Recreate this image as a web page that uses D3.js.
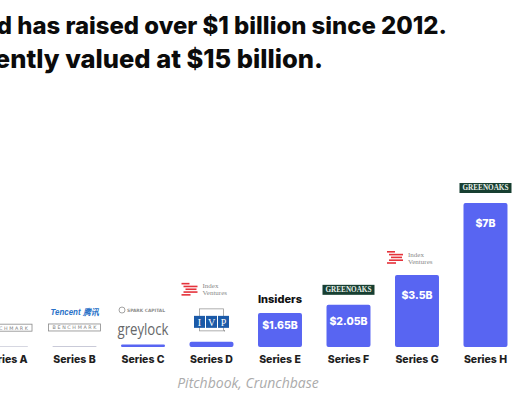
<!DOCTYPE html>
<html>
<head>
<meta charset="utf-8">
<script src="https://cdn.jsdelivr.net/npm/d3@7"></script>
<style>
  body { margin: 0; background: #fff; }
  svg { display: block; }
</style>
</head>
<body>
<div id="chart-container"></div>
<script>
// Valuation by round (in $B) with the lead investors drawn above each bar
const rounds = ["Series A", "Series B", "Series C", "Series D", "Series E", "Series F", "Series G", "Series H"];
const valuations = [0.04, 0.05, 0.12, 0.25, 1.65, 2.05, 3.5, 7];
const valueLabels = ["", "", "", "", "$1.65B", "$2.05B", "$3.5B", "$7B"];
// investors listed bottom -> top
const investors = [
  ["benchmark"],
  ["benchmark", "tencent"],
  ["greylock", "spark"],
  ["ivp", "index"],
  ["insiders"],
  ["greenoaks"],
  ["index"],
  ["greenoaks"]
];
const titleLines = [
  "Discord has raised over $1 billion since 2012.",
  "It's currently valued at $15 billion."
];
const source = "Pitchbook, Crunchbase";

const width = 520;
const height = 400;
const blurple = "#5865f2";
const font = "Inter, 'Open Sans', sans-serif";

const svg = d3
  .select("#chart-container")
  .append("svg")
  .attr("width", width)
  .attr("height", height);

const xScale = d3.scaleBand().domain(rounds).range([-40.5, 532]).padding(0.358);
const yScale = d3.scaleLinear().domain([0, 7]).range([347, 203]);

// title, right aligned so the left part falls off the canvas like the crop
function fitTitle(text, visible, right, baseline, target) {
  const t = svg
    .append("text")
    .attr("x", right)
    .attr("y", baseline)
    .attr("text-anchor", "end")
    .attr("font-family", font)
    .attr("font-weight", 800)
    .attr("font-size", 22)
    .attr("fill", "#0b0b0b")
    .text(text);
  const start = text.indexOf(visible);
  const w = t.node().getSubStringLength(start, text.length - start);
  t.attr("font-size", 22 * target / w);
}
fitTitle(titleLines[0], "has raised", 447, 34, 430);
fitTitle(titleLines[1], "valued", 323, 68, 258);

// bars
svg
  .append("g")
  .selectAll("rect")
  .data(valuations)
  .enter()
  .append("rect")
  .attr("x", (d, i) => xScale(rounds[i]))
  .attr("y", d => yScale(d))
  .attr("width", xScale.bandwidth())
  .attr("height", d => yScale(0) - yScale(d))
  .attr("rx", d => Math.min(2, (yScale(0) - yScale(d)) / 2))
  .attr("fill", (d, i) => (yScale(0) - yScale(d) < 2 ? "#c9cad8" : blurple));

// value labels inside the bars
svg
  .append("g")
  .selectAll("text")
  .data(valueLabels)
  .enter()
  .append("text")
  .attr("x", (d, i) => xScale(rounds[i]) + xScale.bandwidth() / 2)
  .attr("y", (d, i) => yScale(valuations[i]) + Math.min(24, (yScale(0) - yScale(valuations[i])) * 0.48))
  .attr("text-anchor", "middle")
  .attr("font-family", font)
  .attr("font-weight", 800)
  .attr("font-size", 10.5)
  .attr("fill", "#fff")
  .text(d => d);

// x axis labels
svg
  .append("g")
  .selectAll("text")
  .data(rounds)
  .enter()
  .append("text")
  .attr("x", d => xScale(d) + xScale.bandwidth() / 2)
  .attr("y", 363)
  .attr("text-anchor", "middle")
  .attr("font-family", font)
  .attr("font-weight", 800)
  .attr("font-size", 10.5)
  .attr("fill", "#1e1e1e")
  .text(d => d);

svg
  .append("text")
  .attr("x", 248)
  .attr("y", 388)
  .attr("text-anchor", "middle")
  .attr("font-family", "'Open Sans', sans-serif")
  .attr("font-style", "italic")
  .attr("font-size", 14)
  .attr("fill", "#ababab")
  .text(source);

// logo drawings: each gets the center x and the bottom y, returns the height used
const logos = {
  benchmark(g, cx, bottom) {
    g.append("rect")
      .attr("x", cx - 26).attr("y", bottom - 12)
      .attr("width", 52).attr("height", 7)
      .attr("fill", "#fff").attr("stroke", "#8a8a8a").attr("stroke-width", 0.8);
    g.append("text")
      .attr("x", cx).attr("y", bottom - 6.6)
      .attr("text-anchor", "middle")
      .attr("textLength", 44)
      .attr("lengthAdjust", "spacing")
      .attr("font-family", "'DejaVu Sans', sans-serif")
      .attr("font-size", 4.8)
      .attr("fill", "#7a7a7a")
      .text("BENCHMARK");
    return 12;
  },
  tencent(g, cx, bottom) {
    g.append("text")
      .attr("x", cx - 24).attr("y", bottom - 9)
      .attr("textLength", 49)
      .attr("lengthAdjust", "spacingAndGlyphs")
      .attr("font-family", "'Liberation Sans', sans-serif")
      .attr("font-style", "italic")
      .attr("font-weight", 700)
      .attr("font-size", 8.5)
      .attr("fill", "#2a72c8")
      .text("Tencent 腾讯");
    return 18;
  },
  greylock(g, cx, bottom) {
    g.append("text")
      .attr("x", cx - 25.5).attr("y", bottom)
      .attr("textLength", 51)
      .attr("lengthAdjust", "spacingAndGlyphs")
      .attr("font-family", "'Open Sans', sans-serif")
      .attr("font-size", 16)
      .attr("fill", "#666769")
      .text("greylock");
    return 21;
  },
  spark(g, cx, bottom) {
    g.append("circle")
      .attr("cx", cx - 21).attr("cy", bottom - 3.5).attr("r", 3)
      .attr("fill", "none").attr("stroke", "#8c8c8c").attr("stroke-width", 0.8);
    g.append("text")
      .attr("x", cx - 16).attr("y", bottom - 1.8)
      .attr("textLength", 38)
      .attr("lengthAdjust", "spacingAndGlyphs")
      .attr("font-family", "'DejaVu Sans', sans-serif")
      .attr("font-weight", 700)
      .attr("font-size", 4.5)
      .attr("fill", "#8c8c8c")
      .text("SPARK CAPITAL");
    return 8;
  },
  ivp(g, cx, bottom) {
    g.append("rect")
      .attr("x", cx - 12).attr("y", bottom - 23)
      .attr("width", 24).attr("height", 22)
      .attr("fill", "#fff").attr("stroke", "#9a9a9a").attr("stroke-width", 0.8);
    ["I", "V", "P"].forEach((letter, i) => {
      const x0 = cx - 17.5 + i * 12;
      g.append("rect")
        .attr("x", x0).attr("y", bottom - 16)
        .attr("width", 11).attr("height", 12)
        .attr("fill", "#1b5aa8");
      g.append("text")
        .attr("x", x0 + 5.5).attr("y", bottom - 6.3)
        .attr("text-anchor", "middle")
        .attr("font-family", "'Liberation Serif', serif")
        .attr("font-size", 10)
        .attr("fill", "#fff")
        .text(letter);
    });
    g.append("circle")
      .attr("cx", cx + 13).attr("cy", bottom - 1).attr("r", 0.6).attr("fill", "#666");
    return 35;
  },
  index(g, cx, bottom) {
    const stripes = [[0, 8], [2, 16], [4, 15], [2, 16], [0, 9]];
    const x0 = cx - 30;
    stripes.forEach((s, i) => {
      g.append("rect")
        .attr("x", x0 + s[0]).attr("y", bottom - 14 + i * 2.8)
        .attr("width", s[1] - s[0]).attr("height", 1.6)
        .attr("fill", "#e5323b");
    });
    g.selectAll(null)
      .data(["Index", "Ventures"])
      .enter()
      .append("text")
      .attr("x", x0 + 21).attr("y", (d, i) => bottom - 8.5 + i * 7)
      .attr("font-family", "'Liberation Serif', serif")
      .attr("font-size", 7)
      .attr("fill", "#8a8a8a")
      .text(d => d);
    return 15;
  },
  insiders(g, cx, bottom) {
    g.append("text")
      .attr("x", cx).attr("y", bottom)
      .attr("text-anchor", "middle")
      .attr("font-family", font)
      .attr("font-weight", 800)
      .attr("font-size", 11)
      .attr("fill", "#111")
      .text("Insiders");
    return 11;
  },
  greenoaks(g, cx, bottom) {
    g.append("rect")
      .attr("x", cx - 26).attr("y", bottom - 10)
      .attr("width", 52).attr("height", 10)
      .attr("fill", "#173f31");
    g.append("text")
      .attr("x", cx).attr("y", bottom - 2.6)
      .attr("text-anchor", "middle")
      .attr("textLength", 46)
      .attr("lengthAdjust", "spacingAndGlyphs")
      .attr("font-family", "'Liberation Serif', serif")
      .attr("font-weight", 700)
      .attr("font-size", 7.5)
      .attr("fill", "#e8efe9")
      .text("GREENOAKS");
    return 10;
  }
};

const logoLayer = svg.append("g");
investors.forEach((list, i) => {
  const cx = xScale(rounds[i]) + xScale.bandwidth() / 2;
  let bottom = yScale(valuations[i]) - 10;
  list.forEach(name => {
    const g = logoLayer.append("g").attr("class", "logo " + name);
    bottom -= logos[name](g, cx, bottom);
  });
});
</script>
</body>
</html>
